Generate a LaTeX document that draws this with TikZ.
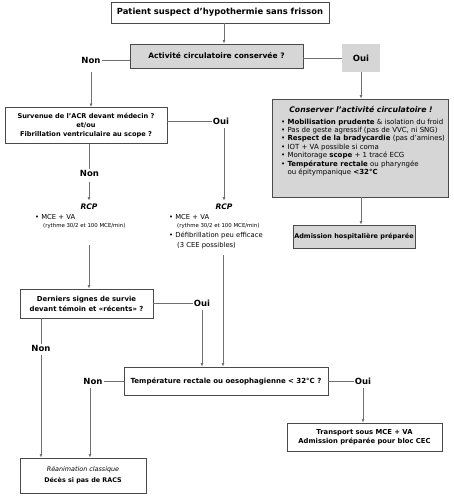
\documentclass[tikz,border=0pt]{standalone}
\usepackage{fontspec}
\setmainfont{DejaVu Sans}
\usetikzlibrary{arrows.meta}
\definecolor{fillgray}{HTML}{D6D6D6}
\definecolor{wiregray}{HTML}{707070}
\definecolor{framegray}{HTML}{4A4A4A}

\begin{document}
\begin{tikzpicture}[x=1pt,y=-1pt,
    box/.style={draw=framegray,line width=0.9pt,inner sep=1pt,align=center},
    greybox/.style={box,fill=fillgray},
    answer/.style={inner sep=1pt,font=\fontsize{8.5}{10}\selectfont\bfseries},
    list/.style={inner sep=0pt,align=left,font=\fontsize{6.8}{8.5}\selectfont},
    wire/.style={draw=wiregray,line width=0.8pt},
    arrow/.style={wire,shorten <=3pt,-{Latex[length=3.5pt,width=3pt]}}]
  \useasboundingbox (0,0) rectangle (453,500);

  % top of the chart
  \node[box,minimum width=218,minimum height=21,font=\fontsize{8.4}{10}\selectfont\bfseries] (patient) at (220,12.5) {Patient suspect d’hypothermie sans frisson};
  \node[greybox,minimum width=173,minimum height=24,font=\fontsize{7.5}{9}\selectfont\bfseries] (circ) at (216.5,56) {Activité circulatoire conservée ?};
  \node[answer,fill=fillgray,minimum width=38,minimum height=28] (oui1) at (361,58) {Oui};
  \node[answer] (non1) at (91,60) {Non};

  % right branch
  \node[greybox,minimum width=176,minimum height=98] (keep) at (360,148) {};
  \node[font=\fontsize{7.7}{9}\selectfont\bfseries\itshape] (keeptitle) at (361,109.5) {Conserver l’activité circulatoire !};
  \node[list,anchor=north west,font=\fontsize{7}{8.4}\selectfont] (keeplist) at (281,118.5) {%
    • \textbf{Mobilisation prudente} \& isolation du froid\\
    • Pas de geste agressif (pas de VVC, ni SNG)\\
    • \textbf{Respect de la bradycardie} (pas d’amines)\\
    • IOT + VA possible si coma\\
    • Monitorage \textbf{scope} + 1 tracé ECG\\
    • \textbf{Température rectale} ou pharyngée\\
    \phantom{• }ou épitympanique \textbf{<32°C}};
  \node[greybox,minimum width=122,minimum height=23,font=\fontsize{6.5}{8}\selectfont\bfseries] (admit) at (354,236.5) {Admission hospitalière préparée};

  % arrest
  \node[box,minimum width=162,minimum height=36,font=\fontsize{6.6}{9}\selectfont\bfseries] (acr) at (86,125.5) {Survenue de l’ACR devant médecin ?\\et/ou\\Fibrillation ventriculaire au scope ?};
  \node[answer] (oui2) at (221,121) {Oui};
  \node[answer] (non2) at (89.5,173) {Non};
  \node[font=\fontsize{7.6}{9}\selectfont\bfseries\itshape] (rcp1) at (89,207) {RCP};
  \node[font=\fontsize{7.6}{9}\selectfont\bfseries\itshape] (rcp2) at (224,207) {RCP};
  \node[list,anchor=north west] (cprL) at (35,214) {%
    • MCE + VA\\
    \hspace{8pt}{\fontsize{5.4}{6}\selectfont(rythme 30/2 et 100 MCE/min)}};
  \node[list,anchor=north west] (cprR) at (169,214) {%
    • MCE + VA\\
    \hspace{8pt}{\fontsize{5.4}{6}\selectfont(rythme 30/2 et 100 MCE/min)}\\[1.5pt]
    • Défibrillation peu efficace\\[1pt]
    \hspace{8pt}(3 CEE possibles)};
  \coordinate (endL) at (89,245);
  \coordinate (endR) at (223,255);

  \node[box,minimum width=133,minimum height=29,font=\fontsize{6.9}{10}\selectfont\bfseries] (sign) at (86.5,303.5) {Derniers signes de survie\\devant témoin et «récents» ?};
  \node[answer] (oui3) at (202,303) {Oui};
  \node[answer] (non3) at (41,348) {Non};

  % temperature
  \node[box,minimum width=204,minimum height=28,font=\fontsize{7}{8}\selectfont\bfseries] (temp) at (226,381) {Température rectale ou oesophagienne < 32°C ?};
  \node[answer] (non4) at (93,381) {Non};
  \node[answer] (oui4) at (363,381) {Oui};
  \node[box,minimum width=155,minimum height=28,font=\fontsize{6.8}{9.5}\selectfont\bfseries] (cec) at (364.5,437) {Transport sous MCE + VA\\Admission préparée pour bloc CEC};
  \node[box,minimum width=126,minimum height=35,font=\fontsize{6.4}{8}\selectfont] (reanim) at (83,475.5) {\textit{Réanimation classique}\\[3pt]\textbf{Décès si pas de RACS}};

  % connectors
  \draw[arrow,shorten <=0pt] ([xshift=4pt]patient.south) -- ([xshift=4pt]patient.south |- circ.north);
  \draw[wire] (circ.west |- non1) -- (non1.east);
  \draw[wire] (circ.east |- oui1) -- (oui1.west);
  \draw[arrow,shorten <=8pt] (non1.south) -- (non1.south |- acr.north);
  \draw[arrow,shorten <=0pt] (oui1.south) -- (oui1.south |- keep.north);
  \draw[arrow,shorten <=0pt] (keep.south -| oui1) -- (oui1 |- admit.north);

  \draw[wire] (acr.east |- oui2) -- (oui2.west);
  \draw[arrow] (oui2.south -| rcp2) -- (rcp2.north);
  \draw[wire] (acr.south -| non2) -- (non2.north);
  \draw[arrow,shorten <=5pt] (non2.south -| rcp1) -- (rcp1.north);
  \draw[arrow,shorten <=0pt] (endL) -- (endL |- sign.north);
  \draw[arrow,shorten <=0pt] (endR) -- (endR |- temp.north);

  \draw[wire] (sign.east |- oui3) -- (oui3.west);
  \draw[arrow] (oui3.south) -- (oui3.south |- temp.north);
  \draw[wire] (sign.south -| non3) -- (non3.north);
  \draw[arrow] (non3.south) -- (non3.south |- reanim.north);

  \draw[wire] (temp.west |- non4) -- (non4.east);
  \draw[arrow] ([xshift=-3pt]non4.south) -- ([xshift=-3pt]non4.south |- reanim.north);
  \draw[wire] (temp.east |- oui4) -- (oui4.west);
  \draw[arrow] (oui4.south) -- (oui4.south |- cec.north);
\end{tikzpicture}
\end{document}
